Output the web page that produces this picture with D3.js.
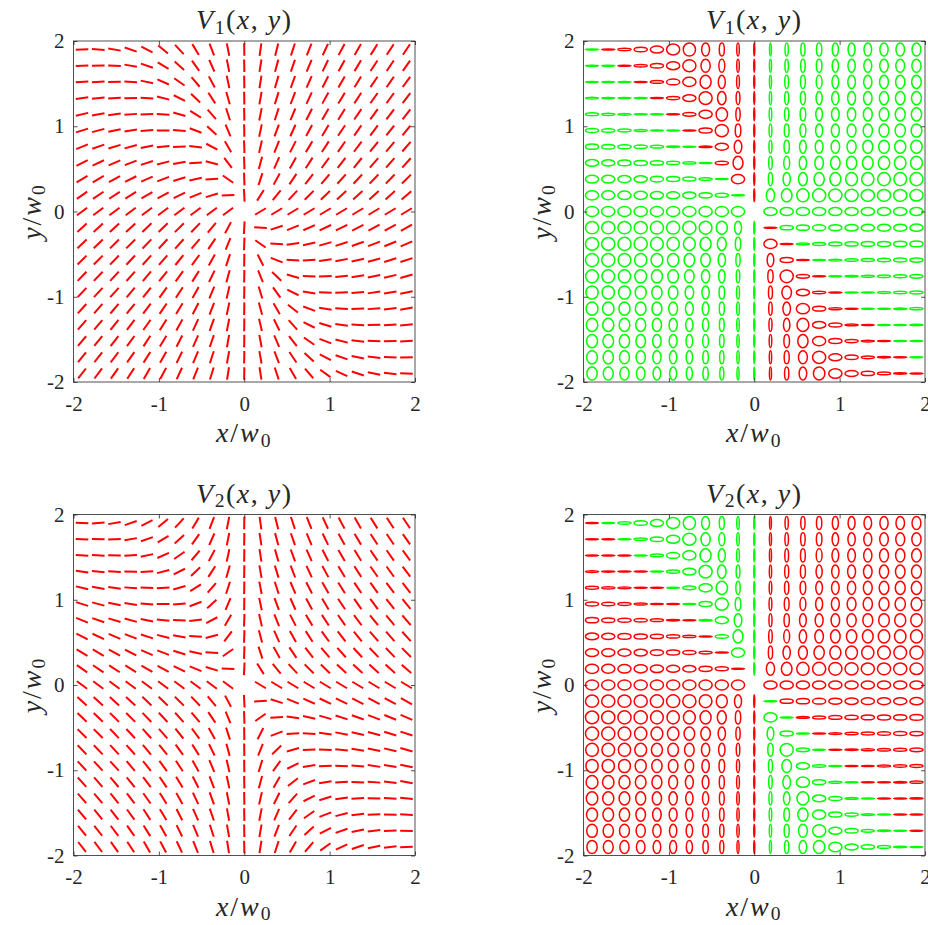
<!DOCTYPE html>
<html>
<head>
<meta charset="utf-8">
<script src="https://cdn.jsdelivr.net/npm/d3@7"></script>
<style>
  body { margin: 0; background: #fff; }
  svg text { font-family: "Liberation Serif", "Times New Roman", serif; fill: #262626; }
</style>
</head>
<body>
<div id="container"></div>
<script>
/* DATA */
// sample positions (x/w0 and y/w0), rows run from top (y = 1.9) to bottom
const gridX = [-1.9, -1.71, -1.52, -1.33, -1.14, -0.95, -0.76, -0.57, -0.38, -0.19, 0,
               0.19, 0.38, 0.57, 0.76, 0.95, 1.14, 1.33, 1.52, 1.71, 1.9];
const gridY = [1.9, 1.71, 1.52, 1.33, 1.14, 0.95, 0.76, 0.57, 0.38, 0.19, 0,
               -0.19, -0.38, -0.57, -0.76, -0.95, -1.14, -1.33, -1.52, -1.71, -1.9];

// polarisation angle of V1 in degrees (0..180); null = singular point
const v1Angle = [
  [  2,176,170,161,152,140,133,121,111,101,  91,  82, 76, 72, 68, 65, 62, 60, 58, 57, 56],
  [  2,  1,177,170,161,149,138,125,114,101,  91,  81, 75, 71, 67, 64, 61, 59, 57, 56, 55],
  [  4,  3,  1,176,168,156,145,130,118,102,  91,  81, 74, 70, 66, 63, 60, 58, 56, 55, 54],
  [  8,  6,  3,  1,177,166,153,136,123,106,  91,  80, 73, 69, 65, 61, 59, 57, 55, 54, 53],
  [ 13, 10,  8,  4,  2,177,164,148,131,108,  91,  79, 72, 67, 63, 60, 58, 56, 54, 53, 52],
  [ 17, 15, 12,  9,  4,  1,175,159,137,113,  91,  78, 70, 66, 62, 59, 56, 55, 53, 52, 51],
  [ 22, 19, 17, 15, 12,  6,  2,173,152,120,  92,  77, 68, 63, 59, 57, 55, 53, 51, 50, 49],
  [ 27, 25, 23, 21, 18, 14, 10,  3,165,127,  92,  75, 66, 61, 57, 54, 52, 51, 49, 49, 48],
  [ 31, 30, 29, 27, 24, 21, 17, 12,  4,145,  92,  72, 61, 56, 52, 50, 48, 47, 46, 46, 45],
  [ 35, 34, 33, 32, 30, 28, 26, 22, 17,  2,  93,  58, 51, 47, 45, 44, 43, 42, 42, 42, 41],
  [ 37, 37, 37, 37, 37, 37, 37, 37, 37, 37,null, 31, 31, 31, 31, 31, 31, 31, 31, 31, 31],
  [ 43, 43, 43, 43, 44, 44, 45, 46, 50, 62,  87, 177, 18, 22, 24, 25, 26, 27, 28, 28, 29],
  [ 44, 44, 45, 45, 46, 47, 48, 50, 56, 68,  88, 145,177,  8, 13, 16, 18, 20, 21, 22, 23],
  [ 45, 45, 46, 47, 48, 49, 51, 54, 61, 72,  89, 117,159,177,  3,  8, 11, 13, 15, 17, 18],
  [ 46, 46, 47, 48, 50, 51, 54, 58, 64, 75,  89, 112,136,164,177,  2,  6,  9, 11, 13, 16],
  [ 47, 47, 48, 50, 52, 54, 57, 61, 67, 77,  89, 107,126,154,170,177,  2,  5,  8, 10, 12],
  [ 48, 49, 50, 51, 53, 56, 59, 63, 69, 78,  89, 105,120,142,160,171,177,  2,  4,  7, 10],
  [ 49, 50, 51, 53, 55, 58, 61, 65, 70, 79,  89, 103,116,132,153,163,172,177,  2,  4,  6],
  [ 50, 51, 52, 54, 57, 59, 63, 66, 71, 80,  89, 101,113,128,145,159,166,173,178,  1,  3],
  [ 51, 52, 53, 55, 58, 61, 64, 67, 72, 80,  89, 100,111,124,137,152,161,168,174,178,  1],
  [ 52, 53, 55, 57, 60, 62, 65, 68, 73, 81,  89,  99,108,120,131,144,155,162,168,174,178]
];

const tickValues = [-2, -1, 0, 1, 2];
const tickLabels = ["-2", "-1", "0", "1", "2"];
const beamNames = ["1", "2"];   // V1 (top row), V2 (bottom row)

/* CONSTANTS */
const boxW = 341.5, boxH = 341;
const halfLen = 0.074;          // half length of a linear mark, in w0
const ellR = 0.077;             // semi-major axis of an ellipse mark, in w0
const red = "#ff0000", green = "#00ff00";
const labelSize = 28;

// V2 is V1 with the y component flipped: angle -> 180 - angle, handedness swapped
const panels = [
  {left: 73.5,  top: 41,    beam: 0, mark: "line"},
  {left: 583.5, top: 41,    beam: 0, mark: "ellipse"},
  {left: 73.5,  top: 514.5, beam: 1, mark: "line"},
  {left: 583.5, top: 514.5, beam: 1, mark: "ellipse"}
];

const svg = d3.select("#container")
    .append("svg")
    .attr("width", 928)
    .attr("height", 925);

const cells = [];
gridY.forEach((gy, i) => gridX.forEach((gx, j) => {
  if (v1Angle[i][j] !== null) cells.push({gx: gx, gy: gy, a: v1Angle[i][j]});
}));

function mathText(sel, parts, size) {
  parts.forEach(p => {
    const t = sel.append("tspan").text(p.t);
    if (p.it) t.style("font-style", "italic");
    if (p.sub) t.attr("font-size", size * 0.7).attr("dy", size * 0.17);
    if (p.back) t.attr("dy", -size * 0.17);
  });
}

panels.forEach(p => {
  const x = d3.scaleLinear().domain([-2, 2]).range([p.left, p.left + boxW]);
  const y = d3.scaleLinear().domain([-2, 2]).range([p.top + boxH, p.top]);
  const g = svg.append("g");

  const data = cells.map(c => {
    const a = p.beam === 1 ? 180 - c.a : c.a;
    const r = a * Math.PI / 180;
    return {gx: c.gx, gy: c.gy, a: a, c: Math.cos(r), s: Math.sin(r)};
  });

  // box
  g.append("rect")
    .attr("x", x(-2)).attr("y", y(2))
    .attr("width", x(2) - x(-2)).attr("height", y(-2) - y(2))
    .attr("fill", "none").attr("stroke", "#262626").attr("stroke-width", 0.8);

  if (p.mark === "line") {
    g.append("g").selectAll("line")
      .data(data)
      .enter()
      .append("line")
      .attr("x1", d => x(d.gx - halfLen * d.c))
      .attr("y1", d => y(d.gy - halfLen * d.s))
      .attr("x2", d => x(d.gx + halfLen * d.c))
      .attr("y2", d => y(d.gy + halfLen * d.s))
      .attr("stroke", red)
      .attr("stroke-width", 2);
  } else {
    g.append("g").selectAll("ellipse")
      .data(data)
      .enter()
      .append("ellipse")
      .attr("cx", d => x(d.gx))
      .attr("cy", d => y(d.gy))
      .attr("rx", d => {
        const m = Math.max(Math.abs(d.c), Math.abs(d.s));
        return Math.max(x(ellR * Math.abs(d.c) / m) - x(0), 0.5);
      })
      .attr("ry", d => {
        const m = Math.max(Math.abs(d.c), Math.abs(d.s));
        return Math.max(y(0) - y(ellR * Math.abs(d.s) / m), 0.5);
      })
      .attr("fill", "none")
      .attr("stroke", d => d.c * d.s > 0 ? green : red)
      .attr("stroke-width", 1.5);
  }

  // inward ticks on all four sides
  const fmt = (d, i) => tickLabels[i];
  g.append("g")
    .attr("transform", "translate(0," + y(-2) + ")")
    .call(d3.axisBottom(x).tickValues(tickValues).tickFormat(fmt).tickSizeInner(-4).tickSizeOuter(0).tickPadding(14))
    .call(a => a.select(".domain").remove());
  g.append("g")
    .attr("transform", "translate(" + x(-2) + ",0)")
    .call(d3.axisLeft(y).tickValues(tickValues).tickFormat(fmt).tickSizeInner(-4).tickSizeOuter(0).tickPadding(9))
    .call(a => a.select(".domain").remove());
  g.append("g")
    .attr("transform", "translate(0," + y(2) + ")")
    .call(d3.axisTop(x).tickValues(tickValues).tickFormat("").tickSizeInner(-4).tickSizeOuter(0))
    .call(a => a.select(".domain").remove());
  g.append("g")
    .attr("transform", "translate(" + x(2) + ",0)")
    .call(d3.axisRight(y).tickValues(tickValues).tickFormat("").tickSizeInner(-4).tickSizeOuter(0))
    .call(a => a.select(".domain").remove());
  g.selectAll(".tick line").attr("stroke", "#262626").attr("stroke-width", 0.8);
  g.selectAll(".tick text")
    .attr("font-family", "Liberation Serif")
    .attr("font-size", 21)
    .attr("fill", "#262626");

  // title
  const title = g.append("text")
    .attr("x", x(0))
    .attr("y", p.top - 12)
    .attr("text-anchor", "middle")
    .style("font-size", labelSize + "px")
    .style("letter-spacing", "1.5px");
  mathText(title, [{t: "V", it: true}, {t: beamNames[p.beam], sub: true},
                   {t: "(", back: true}, {t: "x", it: true}, {t: ", "}, {t: "y", it: true}, {t: ")"}], labelSize);

  // axis labels
  const xl = g.append("text")
    .attr("x", x(0))
    .attr("y", y(-2) + 60)
    .attr("text-anchor", "middle")
    .style("font-size", labelSize + "px")
    .style("letter-spacing", "2px");
  mathText(xl, [{t: "x", it: true}, {t: "/"}, {t: "w", it: true}, {t: "0", sub: true}], labelSize);

  const yl = g.append("text")
    .attr("transform", "translate(" + (x(-2) - 33) + "," + y(0) + ") rotate(-90)")
    .attr("text-anchor", "middle")
    .style("font-size", labelSize + "px")
    .style("letter-spacing", "2px");
  mathText(yl, [{t: "y", it: true}, {t: "/"}, {t: "w", it: true}, {t: "0", sub: true}], labelSize);
});
</script>
</body>
</html>
